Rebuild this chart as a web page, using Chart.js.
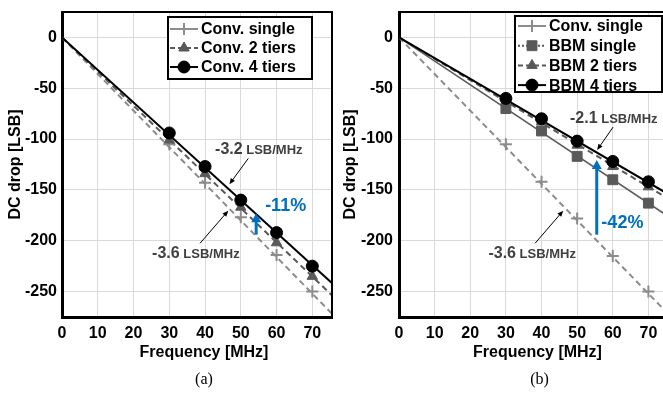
<!DOCTYPE html>
<html>
<head>
<meta charset="utf-8">
<script src="https://cdn.jsdelivr.net/npm/chart.js@4.4.0/dist/chart.umd.min.js"></script>
<style>
html, body { margin: 0; padding: 0; background: #fff; overflow: hidden; width: 663px; height: 394px; }
#boxA { position: absolute; left: 0; top: 0; width: 333px; height: 394px; }
#boxB { position: absolute; left: 333px; top: 0; width: 340px; height: 394px; }
</style>
</head>
<body>
<div id="boxA"><canvas id="chartA" width="333" height="394"></canvas></div>
<div id="boxB"><canvas id="chartB" width="340" height="394"></canvas></div>
<script>
// measured points, x = frequency [MHz]
var freq = [30, 40, 50, 60, 70];

// (a) conventional
var convSingle = [-105, -143, -177, -214, -250];
var conv2Tiers = [-101, -134, -167, -202, -235];
var conv4Tiers = [-94, -127, -160, -192, -225];

// (b) BBM
var convSingleB = [-105, -142, -178, -215, -250];
var bbmSingle = [-70, -92, -117, -140, -163];
var bbm2Tiers = [-63, -83, -106, -127, -147];
var bbm4Tiers = [-60, -80, -102, -122, -142];

// trendline slopes through origin [LSB/MHz]
var slopesA = [-3.6, -3.36, -3.2];
var slopesB = [-3.6, -2.33, -2.1, -2.04];

var xTicks = [0, 10, 20, 30, 40, 50, 60, 70];
var yTicks = [0, -50, -100, -150, -200, -250];

Chart.defaults.font.family = "'Liberation Sans', Arial, sans-serif";
Chart.defaults.font.size = 16;
Chart.defaults.font.weight = 'bold';
Chart.defaults.color = '#000';

function pts(ys) {
  return freq.map(function (f, i) { return { x: f, y: ys[i] }; });
}

function series(label, ys, slope, st) {
  var marks = {
    label: label,
    data: pts(ys),
    showLine: false,
    pointStyle: st.shape,
    pointRadius: st.radius,
    pointBackgroundColor: st.color,
    pointBorderColor: st.color,
    pointBorderWidth: st.shape == 'cross' ? 2 : 1,
    order: st.z,
    legendDash: st.legendDash,
    legendColor: st.color
  };
  var trend = {
    label: label + ' trend',
    data: [{ x: 0, y: 0 }, { x: 80, y: slope * 80 }],
    showLine: true,
    borderColor: st.color,
    borderWidth: st.width,
    borderDash: st.dash,
    pointRadius: 0,
    order: 10 + st.z,
    trend: true
  };
  return [marks, trend];
}

function arrow(ctx, x1, y1, x2, y2, color, w, head, headW) {
  var a = Math.atan2(y2 - y1, x2 - x1);
  ctx.strokeStyle = color; ctx.fillStyle = color; ctx.lineWidth = w;
  ctx.setLineDash([]);
  ctx.beginPath();
  ctx.moveTo(x1, y1);
  ctx.lineTo(x2 - Math.cos(a) * head * 0.8, y2 - Math.sin(a) * head * 0.8);
  ctx.stroke();
  ctx.beginPath();
  ctx.moveTo(x2, y2);
  ctx.lineTo(x2 - Math.cos(a) * head - Math.sin(a) * headW / 2, y2 - Math.sin(a) * head + Math.cos(a) * headW / 2);
  ctx.lineTo(x2 - Math.cos(a) * head + Math.sin(a) * headW / 2, y2 - Math.sin(a) * head - Math.cos(a) * headW / 2);
  ctx.closePath();
  ctx.fill();
}

var decor = {
  id: 'decor',
  afterDatasetsDraw: function (chart, args, o) {
    var ctx = chart.ctx, xs = chart.scales.x, ys = chart.scales.y, ca = chart.chartArea;
    var fam = Chart.defaults.font.family;
    ctx.save();
    // top / right frame
    ctx.strokeStyle = '#000'; ctx.lineWidth = 2;
    ctx.beginPath();
    ctx.moveTo(ca.left, ca.top); ctx.lineTo(ca.right, ca.top); ctx.lineTo(ca.right, ca.bottom);
    ctx.stroke();

    o.arrows.forEach(function (a) {
      arrow(ctx, xs.getPixelForValue(a[0]), ys.getPixelForValue(a[1]),
        xs.getPixelForValue(a[2]), ys.getPixelForValue(a[3]), '#000', 1, 6, 5);
    });
    var b = o.blue;
    arrow(ctx, xs.getPixelForValue(b[0]), ys.getPixelForValue(b[1]),
      xs.getPixelForValue(b[0]), ys.getPixelForValue(b[2]), '#0070C0', 3, 9, 10);

    ctx.textBaseline = 'alphabetic'; ctx.textAlign = 'left';
    o.labels.forEach(function (t) {
      var x = xs.getPixelForValue(t.x), y = ys.getPixelForValue(t.y);
      ctx.fillStyle = t.color;
      ctx.font = 'bold ' + t.size + 'px ' + fam;
      ctx.fillText(t.big, x, y);
      if (t.small) {
        var w = ctx.measureText(t.big).width;
        ctx.font = 'bold 13px ' + fam;
        ctx.fillText(t.small, x + w, y);
      }
    });

    // legend box
    var L = o.legend;
    var lx = ca.right - L.right - L.w, ly = ca.top + L.top;
    ctx.fillStyle = '#fff';
    ctx.fillRect(lx, ly, L.w, L.h);
    ctx.strokeStyle = '#000'; ctx.lineWidth = 2;
    ctx.strokeRect(lx, ly, L.w, L.h);
    var items = chart.data.datasets.filter(function (d) { return !d.trend; });
    items.forEach(function (d, i) {
      var cy = ly + L.first + i * L.row;
      ctx.strokeStyle = d.legendColor; ctx.lineWidth = 2;
      ctx.setLineDash(d.legendDash);
      ctx.beginPath();
      ctx.moveTo(lx + L.pad, cy); ctx.lineTo(lx + L.pad + 28, cy);
      ctx.stroke();
      ctx.setLineDash([]);
      ctx.fillStyle = d.legendColor;
      ctx.lineWidth = d.pointBorderWidth;
      Chart.helpers.drawPoint(ctx, { pointStyle: d.pointStyle, radius: d.pointRadius, rotation: 0, borderWidth: d.pointBorderWidth },
        lx + L.pad + 14, cy);
      ctx.fillStyle = '#000';
      ctx.font = 'bold 16px ' + fam;
      ctx.textBaseline = 'middle';
      ctx.fillText(d.label, lx + L.pad + 31, cy + 1);
    });

    // x title and caption
    var cx = (ca.left + ca.right) / 2;
    ctx.textAlign = 'center'; ctx.textBaseline = 'middle';
    ctx.fillStyle = '#000';
    ctx.font = 'bold 16px ' + fam;
    ctx.fillText('Frequency [MHz]', cx + o.titleShift, 353);
    ctx.font = "16px 'Liberation Serif', 'Times New Roman', serif";
    ctx.fillText(o.caption, cx + o.capShift, 380);
    ctx.restore();
  }
};

function makeChart(id, datasets, extra) {
  return new Chart(document.getElementById(id), {
    type: 'scatter',
    data: { datasets: datasets },
    options: {
      responsive: false,
      animation: false,
      events: [],
      layout: { autoPadding: false, padding: { left: 0, right: extra.padRight, top: 12, bottom: 0 } },
      plugins: {
        legend: { display: false },
        tooltip: { enabled: false },
        decor: extra.decor
      },
      scales: {
        x: {
          type: 'linear', min: 0, max: 75.5,
          afterBuildTicks: function (s) { s.ticks = xTicks.map(function (v) { return { value: v }; }); },
          afterFit: function (s) { s.height = 77; s.paddingLeft = 0; s.paddingRight = 0; },
          grid: { color: '#d9d9d9', lineWidth: 1, drawTicks: false },
          border: { color: '#000', width: 3 },
          ticks: { padding: 7, font: { size: 16, weight: 'bold' }, color: '#000' }
        },
        y: {
          type: 'linear', min: -275, max: 25,
          afterBuildTicks: function (s) { s.ticks = yTicks.map(function (v) { return { value: v }; }); },
          afterFit: function (s) { s.width = extra.yWidth; s.paddingTop = 0; s.paddingBottom = 0; },
          grid: { color: '#d9d9d9', lineWidth: 1, drawTicks: false },
          border: { color: '#000', width: 3 },
          ticks: { padding: extra.tickPad, font: { size: 16, weight: 'bold' }, color: '#000' },
          title: { display: true, text: 'DC drop [LSB]', padding: { top: extra.titlePad, bottom: 0 },
            font: { size: 16, weight: 'bold' }, color: '#000' }
        }
      }
    },
    plugins: [decor]
  });
}

var setA = [].concat(
  series('Conv. single', convSingle, slopesA[0], { color: '#8c8c8c', shape: 'cross', radius: 6, width: 2, dash: [6, 4], legendDash: [], z: 3 }),
  series('Conv. 2 tiers', conv2Tiers, slopesA[1], { color: '#595959', shape: 'triangle', radius: 6, width: 2, dash: [6, 4], legendDash: [5, 3], z: 2 }),
  series('Conv. 4 tiers', conv4Tiers, slopesA[2], { color: '#000000', shape: 'circle', radius: 6, width: 2, dash: [], legendDash: [], z: 1 })
);

var setB = [].concat(
  series('Conv. single', convSingleB, slopesB[0], { color: '#8c8c8c', shape: 'cross', radius: 6, width: 2, dash: [6, 4], legendDash: [], z: 4 }),
  series('BBM single', bbmSingle, slopesB[1], { color: '#595959', shape: 'rect', radius: 7, width: 1.5, dash: [], legendDash: [2, 2], z: 3 }),
  series('BBM 2 tiers', bbm2Tiers, slopesB[2], { color: '#595959', shape: 'triangle', radius: 6, width: 2, dash: [6, 4], legendDash: [5, 3], z: 2 }),
  series('BBM 4 tiers', bbm4Tiers, slopesB[3], { color: '#000000', shape: 'circle', radius: 6, width: 2, dash: [], legendDash: [], z: 1 })
);

makeChart('chartA', setA, {
  padRight: 1, yWidth: 62, tickPad: 5, titlePad: 6,
  decor: {
    legend: { right: 20, top: 5, w: 144, h: 62, first: 12, row: 19, pad: 2 },
    arrows: [[52.1, -119, 46.8, -144.5], [38.6, -202.5, 46.5, -170.4]],
    blue: [54.3, -194, -173],
    labels: [
      { x: 42.8, y: -114.7, big: '-3.2', small: ' LSB/MHz', size: 16, color: '#404040' },
      { x: 25.2, y: -216.7, big: '-3.6', small: ' LSB/MHz', size: 16, color: '#404040' },
      { x: 56.8, y: -170.4, big: '-11%', size: 18, color: '#0070C0' }
    ],
    titleShift: 7, capShift: 7, caption: '(a)'
  }
});

makeChart('chartB', setB, {
  padRight: 5, yWidth: 66, tickPad: 6, titlePad: 8,
  decor: {
    legend: { right: 6, top: 4, w: 147, h: 76, first: 10, row: 19.7, pad: 3 },
    arrows: [[60.1, -88.2, 55.6, -110.8], [38.2, -202.5, 46.1, -170.4]],
    blue: [55.5, -194, -120.6],
    labels: [
      { x: 48, y: -84.5, big: '-2.1', small: ' LSB/MHz', size: 16, color: '#404040' },
      { x: 25.1, y: -216.7, big: '-3.6', small: ' LSB/MHz', size: 16, color: '#404040' },
      { x: 56.8, y: -187.8, big: '-42%', size: 18, color: '#0070C0' }
    ],
    titleShift: 4, capShift: 6, caption: '(b)'
  }
});
</script>
</body>
</html>
